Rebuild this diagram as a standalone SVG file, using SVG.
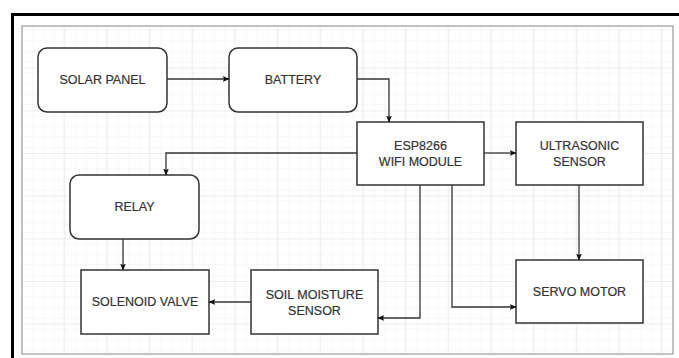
<svg xmlns="http://www.w3.org/2000/svg" width="679" height="358" viewBox="0 0 679 358">
<defs>
<pattern id="minor" width="10.67" height="10.67" patternUnits="userSpaceOnUse" x="22" y="26">
<path d="M10.67 0V10.67H0" fill="none" stroke="#ececec" stroke-width="0.8"/>
</pattern>
<pattern id="major" width="42.67" height="42.67" patternUnits="userSpaceOnUse" x="22" y="26">
<rect width="42.67" height="42.67" fill="url(#minor)"/>
<path d="M42.67 0V42.67H0" fill="none" stroke="#dddddd" stroke-width="1"/>
</pattern>
<marker id="arr" viewBox="0 0 10 10" refX="9" refY="5" markerWidth="7" markerHeight="7" orient="auto" markerUnits="userSpaceOnUse">
<path d="M0 1L10 5L0 9L2 5Z" fill="#111"/>
</marker>
</defs>
<style>
.box{fill:#fff;stroke:#333;stroke-width:1.5}
.t{font-family:"Liberation Sans",Arial,sans-serif;font-size:12.5px;fill:#333;text-anchor:middle;stroke:#333;stroke-width:0.2}
.c{fill:none;stroke:#333;stroke-width:1.3;marker-end:url(#arr)}
</style>
<rect width="679" height="358" fill="#fff"/>
<rect x="22" y="26" width="651" height="328" fill="url(#major)" stroke="#999" stroke-width="1.2"/>
<path d="M12.5 358V14.5H679" fill="none" stroke="#000" stroke-width="3"/>

<g id="solar"><rect class="box" x="38" y="48" width="129" height="64" rx="9"/><text class="t" x="102.5" y="84">SOLAR PANEL</text></g>
<g id="battery"><rect class="box" x="229" y="48" width="128" height="64" rx="9"/><text class="t" x="293" y="84">BATTERY</text></g>
<g id="esp"><rect class="box" x="357" y="122" width="127" height="63"/><text class="t" x="420.5" y="150">ESP8266</text><text class="t" x="420.5" y="166">WIFI MODULE</text></g>
<g id="ultra"><rect class="box" x="516" y="122" width="127" height="63"/><text class="t" x="579.5" y="150">ULTRASONIC</text><text class="t" x="579.5" y="166">SENSOR</text></g>
<g id="relay"><rect class="box" x="70" y="175" width="129" height="64" rx="9"/><text class="t" x="134.5" y="211">RELAY</text></g>
<g id="solenoid"><rect class="box" x="81" y="270" width="128" height="64"/><text class="t" x="145" y="306">SOLENOID VALVE</text></g>
<g id="soil"><rect class="box" x="251" y="270" width="127" height="64"/><text class="t" x="314.5" y="299">SOIL MOISTURE</text><text class="t" x="314.5" y="315">SENSOR</text></g>
<g id="servo"><rect class="box" x="516" y="260" width="127" height="63"/><text class="t" x="579.5" y="296">SERVO MOTOR</text></g>

<g id="connectors">
<path class="c" d="M167 79H229"/>
<path class="c" d="M357 79H389V122"/>
<path class="c" d="M484 153H516"/>
<path class="c" d="M357 153H166V175"/>
<path class="c" d="M123 239V270"/>
<path class="c" d="M251 302H209"/>
<path class="c" d="M420 185V318H378"/>
<path class="c" d="M452 185V307H516"/>
<path class="c" d="M579 185V260"/>
</g>
</svg>
